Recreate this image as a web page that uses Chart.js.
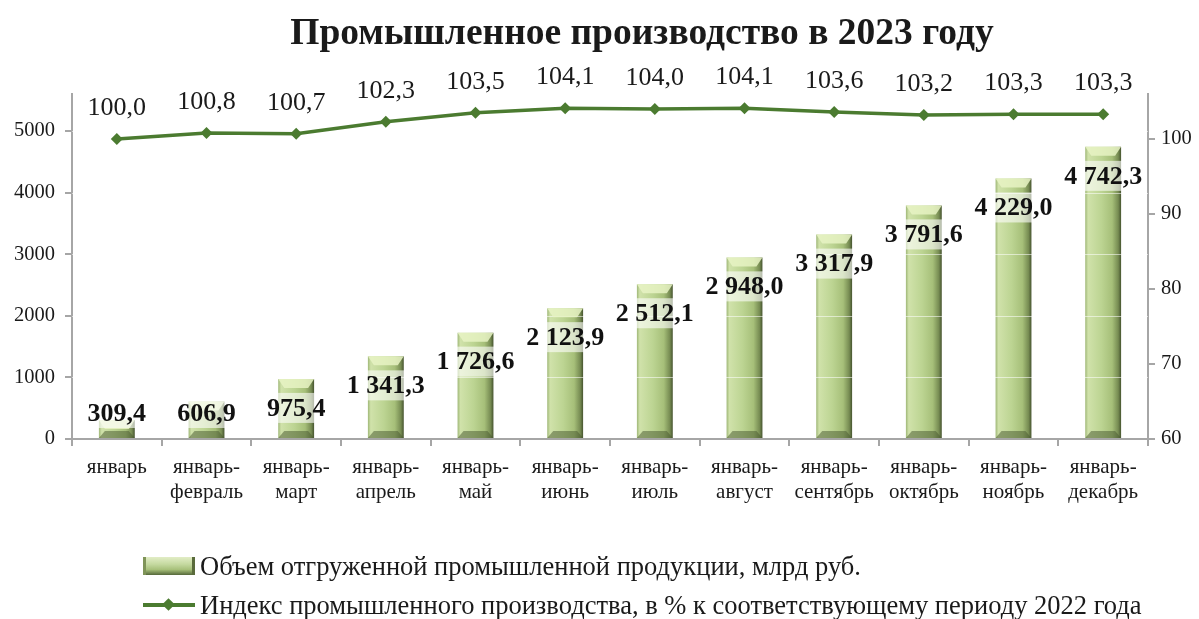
<!DOCTYPE html>
<html>
<head>
<meta charset="utf-8">
<script src="https://cdn.jsdelivr.net/npm/chart.js@4.4.0/dist/chart.umd.min.js"></script>
<style>
  html, body { margin: 0; padding: 0; background: #fff; }
  #marco { position: relative; width: 1199px; height: 619px; font-family: "Liberation Serif", "Times New Roman", serif; color: #1a1a1a; }
  #grafica { position: absolute; left: 0; top: 0; }
  #titulo { position: absolute; left: 642px; top: 9px; transform: translateX(-50%); white-space: nowrap; font-size: 37.5px; font-weight: bold; line-height: 46px; }
  .fila { position: absolute; left: 143px; height: 30px; display: flex; align-items: center; font-size: 26.5px; white-space: nowrap; }
  .cuadroBarra { width: 52px; height: 18px; margin-right: 5px; box-sizing: border-box;
    background: linear-gradient(to bottom, #e2edc6 0%, #c5d9a0 40%, #a7c07a 70%, #55683a 100%);
    border-left: 3px solid #7f9458; border-right: 3px solid #5a6b3c; }
  .cuadroLinea { position: relative; width: 52px; height: 18px; margin-right: 5px; }
  .cuadroLinea .l { position: absolute; left: 0; right: 0; top: 7px; height: 4px; background: #4b7b30; }
  .cuadroLinea .d { position: absolute; left: 21px; top: 4px; width: 9px; height: 9px; background: #4b7b30; transform: rotate(45deg); }
</style>
</head>
<body>
<div id="marco">
  <canvas id="grafica" width="1199" height="619"></canvas>
  <div id="titulo">Промышленное производство в 2023 году</div>
  <div class="fila" style="top:551px"><div class="cuadroBarra"></div>Объем отгруженной промышленной продукции, млрд руб.</div>
  <div class="fila" style="top:590px"><div class="cuadroLinea"><div class="l"></div><div class="d"></div></div>Индекс промышленного производства, в % к соответствующему периоду 2022 года</div>
</div>
<script>
//DATOS
const categorias = [
  "январь", ["январь-", "февраль"], ["январь-", "март"], ["январь-", "апрель"],
  ["январь-", "май"], ["январь-", "июнь"], ["январь-", "июль"], ["январь-", "август"],
  ["январь-", "сентябрь"], ["январь-", "октябрь"], ["январь-", "ноябрь"], ["январь-", "декабрь"]
];
const volumen = [309.4, 606.9, 975.4, 1341.3, 1726.6, 2123.9, 2512.1, 2948.0, 3317.9, 3791.6, 4229.0, 4742.3];
const indice = [100.0, 100.8, 100.7, 102.3, 103.5, 104.1, 104.0, 104.1, 103.6, 103.2, 103.3, 103.3];
const ticksIzq = [0, 1000, 2000, 3000, 4000, 5000];
const ticksDer = [60, 70, 80, 90, 100];

const fuente = "'Liberation Serif', 'Times New Roman', serif";
const gris = "#a6a6a6";
const verde = "#4b7b30";

function formatoVol(v) {
  let partes = v.toFixed(1).split(".");
  let ent = partes[0].replace(/\B(?=(\d{3})+(?!\d))/g, " ");
  return ent + "," + partes[1];
}
function formatoIdx(v) {
  return v.toFixed(1).replace(".", ",");
}

function anchoBarra(chart) {
  return chart.chartArea.width / categorias.length * 0.4;
}

function colorBarra(ctx) {
  const chart = ctx.chart;
  if (!chart.chartArea || ctx.type !== "data") return "#b5cf8a";
  const x = chart.scales.x.getPixelForValue(ctx.dataIndex);
  const w = anchoBarra(chart);
  const g = chart.ctx.createLinearGradient(x - w / 2, 0, x + w / 2, 0);
  g.addColorStop(0, "#9fb777");
  g.addColorStop(0.08, "#d0e2aa");
  g.addColorStop(0.45, "#bcd492");
  g.addColorStop(0.75, "#a6bf79");
  g.addColorStop(0.92, "#768b52");
  g.addColorStop(1, "#46542f");
  return g;
}

// bisel de las barras, lineas blancas y etiquetas
const pluginEtiquetas = {
  id: "etiquetas",
  afterDatasetDraw(chart, args) {
    const c = chart.ctx;
    if (args.index === 0) {
      const meta = chart.getDatasetMeta(0);
      const area = chart.chartArea;
      const ey = chart.scales.y;
      // lineas de cuadricula blancas que solo se ven sobre las barras
      c.save();
      c.strokeStyle = "rgba(255,255,255,0.55)";
      c.lineWidth = 1;
      ticksIzq.slice(1).forEach(v => {
        const py = Math.round(ey.getPixelForValue(v)) + 0.5;
        c.beginPath();
        c.moveTo(area.left, py);
        c.lineTo(area.right, py);
        c.stroke();
      });
      c.restore();
      meta.data.forEach((bar, i) => {
        const w = bar.width, x = bar.x, top = bar.y, base = bar.base;
        c.save();
        // bisel superior
        c.beginPath();
        c.moveTo(x - w / 2, top);
        c.lineTo(x + w / 2, top);
        c.lineTo(x + w / 2 - 6, top + 9);
        c.lineTo(x - w / 2 + 6, top + 9);
        c.closePath();
        c.fillStyle = "rgba(232,243,196,0.85)";
        c.fill();
        // bisel inferior
        c.beginPath();
        c.moveTo(x - w / 2, base);
        c.lineTo(x + w / 2, base);
        c.lineTo(x + w / 2 - 6, base - 7);
        c.lineTo(x - w / 2 + 6, base - 7);
        c.closePath();
        c.fillStyle = "rgba(70,85,45,0.5)";
        c.fill();
        // etiqueta
        const txt = formatoVol(volumen[i]);
        c.font = "bold 26px " + fuente;
        const tw = c.measureText(txt).width;
        const cy = Math.min(top + 29, 413);
        c.fillStyle = "rgba(255,255,255,0.6)";
        c.fillRect(x - tw / 2 - 2, cy - 15, tw + 4, 30);
        c.fillStyle = "#111";
        c.textAlign = "center";
        c.textBaseline = "middle";
        c.fillText(txt, x, cy + 1);
        c.restore();
      });
    }
  },
  afterDatasetsDraw(chart) {
    const c = chart.ctx;
    const meta = chart.getDatasetMeta(1);
    c.save();
    c.font = "26px " + fuente;
    c.fillStyle = "#1a1a1a";
    c.textAlign = "center";
    c.textBaseline = "middle";
    meta.data.forEach((p, i) => {
      c.fillText(formatoIdx(indice[i]), p.x, p.y - 31);
    });
    c.restore();
  }
};

let micanvas = document.getElementById("grafica").getContext("2d");
var grafico = new Chart(micanvas, {
  type: "bar",
  data: {
    labels: categorias,
    datasets: [
      {
        type: "bar",
        label: "Объем отгруженной промышленной продукции, млрд руб.",
        data: volumen,
        yAxisID: "y",
        backgroundColor: colorBarra,
        barPercentage: 0.4,
        categoryPercentage: 1,
        order: 1
      },
      {
        type: "line",
        label: "Индекс промышленного производства, в % к соответствующему периоду 2022 года",
        data: indice,
        yAxisID: "y1",
        borderColor: verde,
        backgroundColor: verde,
        borderWidth: 3.5,
        pointStyle: "rectRot",
        pointRadius: 6,
        pointBorderWidth: 0,
        tension: 0,
        order: 0
      }
    ]
  },
  options: {
    responsive: false,
    animation: false,
    layout: { padding: { top: 94, left: 0, right: 0, bottom: 0 } },
    plugins: {
      legend: { display: false },
      title: { display: false },
      tooltip: { enabled: false }
    },
    scales: {
      x: {
        offset: true,
        grid: { offset: true, drawOnChartArea: false, color: gris, lineWidth: 2, tickLength: 7 },
        border: { color: gris, width: 2 },
        ticks: { color: "#1a1a1a", font: { family: fuente, size: 21, lineHeight: 1.18 }, padding: 9, maxRotation: 0, autoSkip: false },
        afterFit(s) { s.height = 180; }
      },
      y: {
        position: "left",
        min: 0,
        max: 5600,
        grid: { drawOnChartArea: false, color: gris, lineWidth: 2, tickLength: 7 },
        border: { color: gris, width: 2 },
        ticks: { color: "#1a1a1a", font: { family: fuente, size: 20.5 }, padding: 10, callback: v => String(v) },
        afterBuildTicks(s) { s.ticks = ticksIzq.map(v => ({ value: v })); },
        afterFit(s) { s.width = 72; }
      },
      y1: {
        position: "right",
        min: 60,
        max: 106,
        grid: { drawOnChartArea: false, color: gris, lineWidth: 2, tickLength: 7 },
        border: { color: gris, width: 2 },
        ticks: { color: "#1a1a1a", font: { family: fuente, size: 20.5 }, padding: 6, callback: v => String(v) },
        afterBuildTicks(s) { s.ticks = ticksDer.map(v => ({ value: v })); },
        afterFit(s) { s.width = 51; }
      }
    }
  },
  plugins: [pluginEtiquetas]
});
</script>
</body>
</html>
